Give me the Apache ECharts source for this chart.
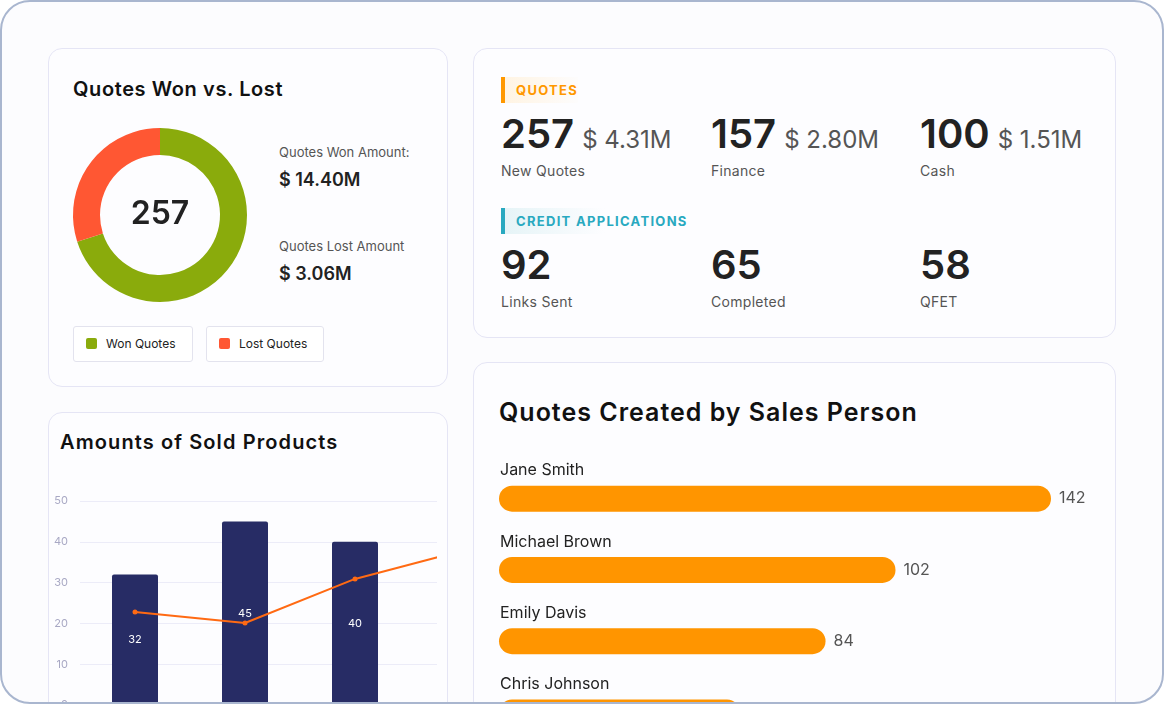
<!DOCTYPE html>
<html lang="en">
<head>
<meta charset="UTF-8">
<title>Quotes Dashboard</title>
<script src="https://cdn.jsdelivr.net/npm/echarts@6/dist/echarts.min.js"></script>
<style>
body{margin:0;width:1164px;height:704px;overflow:hidden;font-family:Inter,"Noto Sans",sans-serif;background:#fff;}
.frame{position:absolute;left:0;top:0;width:1160px;height:700px;border:2px solid #a9b6cf;border-radius:30px;background:#fcfcfe;overflow:hidden;}
.card{position:absolute;background:#fdfdff;border:1px solid #e5e5f5;border-radius:14px;overflow:hidden;}
.title{position:absolute;font-weight:600;color:#111;}
.t{position:absolute;white-space:nowrap;}
.lg{position:absolute;top:277px;height:34px;border:1px solid #e3e3ee;border-radius:3px;font-size:12px;color:#222;line-height:34px;background:#fff;}
.lg i{display:inline-block;width:11px;height:11px;border-radius:2px;margin:0 9px 0 12px;vertical-align:-1px;}
.sec{position:absolute;left:27px;font-size:13px;font-weight:700;letter-spacing:1.3px;padding-left:11px;height:26px;line-height:26px;}
.big{font-size:40px;font-weight:600;color:#222;}
.amt{font-size:24px;color:#555;margin-left:8px;}
.lab{font-size:14px;color:#555;letter-spacing:.3px;}
</style>
</head>
<body>
<div class="frame">
  <div class="card" style="left:46px;top:46px;width:398px;height:337px;">
    <div class="title" style="left:24px;top:28px;font-size:20px;letter-spacing:.6px;">Quotes Won vs. Lost</div>
    <div id="donut" style="position:absolute;left:0;top:60px;width:222px;height:210px;"></div>
    <div class="t" style="left:230px;top:95px;font-size:13px;color:#555;">Quotes Won Amount:</div>
    <div class="t" style="left:230px;top:120px;font-size:18px;font-weight:600;color:#222;">$ 14.40M</div>
    <div class="t" style="left:230px;top:189px;font-size:13px;color:#555;">Quotes Lost Amount</div>
    <div class="t" style="left:230px;top:214px;font-size:18px;font-weight:600;color:#222;">$ 3.06M</div>
    <div class="lg" style="left:24px;width:118px;"><i style="background:#8aab0c"></i>Won Quotes</div>
    <div class="lg" style="left:157px;width:116px;"><i style="background:#ff5733"></i>Lost Quotes</div>
  </div>
  <div class="card" style="left:46px;top:410px;width:398px;height:320px;">
    <div class="title" style="left:11px;top:17px;font-size:20px;letter-spacing:1.1px;">Amounts of Sold Products</div>
    <div style="position:absolute;left:0;top:0;width:388px;height:320px;overflow:hidden;">
      <div id="combo" style="position:absolute;left:0;top:58px;width:520px;height:260px;"></div>
    </div>
  </div>
  <div class="card" style="left:471px;top:46px;width:641px;height:288px;">
    <div class="sec" style="top:28px;color:#ff9800;border-left:4px solid #ff9800;background:linear-gradient(90deg,#fff4e3,rgba(255,255,255,0) 80px);">QUOTES</div>
    <div class="t" style="left:27px;top:60px;"><span class="big">257</span><span class="amt">$ 4.31M</span></div>
    <div class="t lab" style="left:27px;top:113px;">New Quotes</div>
    <div class="t" style="left:237px;top:60px;"><span class="big">157</span><span class="amt">$ 2.80M</span></div>
    <div class="t lab" style="left:237px;top:113px;">Finance</div>
    <div class="t" style="left:446px;top:60px;"><span class="big">100</span><span class="amt">$ 1.51M</span></div>
    <div class="t lab" style="left:446px;top:113px;">Cash</div>
    <div class="sec" style="top:159px;color:#29a9c0;border-left:4px solid #29a9c0;background:linear-gradient(90deg,#e6f4f7,rgba(255,255,255,0) 100px);">CREDIT APPLICATIONS</div>
    <div class="t" style="left:27px;top:191px;"><span class="big">92</span></div>
    <div class="t lab" style="left:27px;top:244px;">Links Sent</div>
    <div class="t" style="left:237px;top:191px;"><span class="big">65</span></div>
    <div class="t lab" style="left:237px;top:244px;">Completed</div>
    <div class="t" style="left:446px;top:191px;"><span class="big">58</span></div>
    <div class="t lab" style="left:446px;top:244px;">QFET</div>
  </div>
  <div class="card" style="left:471px;top:360px;width:641px;height:400px;">
    <div class="title" style="left:25px;top:34px;font-size:25px;letter-spacing:1px;">Quotes Created by Sales Person</div>
    <div id="hbar" style="position:absolute;left:0;top:85px;width:641px;height:300px;"></div>
  </div>
</div>
<script>
// donut
var donutNames = ['Won Quotes', 'Lost Quotes'];
var donutValues = [180, 77];
var donutColors = ['#8aab0c', '#ff5733'];
var totalQuotes = 257;

// sold products
var productCats = ['A', 'B', 'C', 'D'];
var soldBars = [32, 45, 40, 36];
var soldLine = [22.8, 20.1, 30.9, 38];
var soldTicks = [0, 10, 20, 30, 40, 50];

// sales persons
var persons = ['Jane Smith', 'Michael Brown', 'Emily Davis', 'Chris Johnson'];
var personQuotes = [142, 102, 84, 62];

var donut = echarts.init(document.getElementById('donut'));
donut.setOption({
  graphic: [{type: 'text', left: 'center', top: 'middle',
    style: {text: String(totalQuotes), font: '600 32px Inter', fill: '#222'}}],
  series: [{
    type: 'pie', radius: [60, 87], center: [111, 106], startAngle: 90,
    label: {show: false}, silent: true,
    data: donutNames.map(function (n, i) {
      return {name: n, value: donutValues[i], itemStyle: {color: donutColors[i]}};
    })
  }]
});

var combo = echarts.init(document.getElementById('combo'));
combo.setOption({
  grid: {left: 31, right: 49, top: 30, bottom: 26},
  xAxis: {type: 'category', data: productCats, axisLine: {show: false}, axisTick: {show: false}, axisLabel: {show: false}},
  yAxis: {type: 'value', min: soldTicks[0], max: soldTicks[soldTicks.length - 1], interval: 10,
    axisLabel: {color: '#a8a8c4', fontSize: 11, fontFamily: 'Inter', margin: 12},
    splitLine: {lineStyle: {color: '#ececf8'}}},
  series: [{
    type: 'bar', data: soldBars, barWidth: 46,
    itemStyle: {color: '#272c65', borderRadius: [2, 2, 0, 0]},
    label: {show: true, position: 'inside', color: '#fff', fontSize: 11, fontFamily: 'Inter'}
  }, {
    type: 'line', data: soldLine, symbol: 'circle', symbolSize: 5,
    lineStyle: {color: '#ff6a13', width: 2}, itemStyle: {color: '#ff6a13'}
  }]
});

var hbar = echarts.init(document.getElementById('hbar'));
hbar.setOption({
  grid: {left: 25, right: 64, top: 15, bottom: 0},
  xAxis: {type: 'value', min: 0, max: 142, show: false},
  yAxis: {type: 'category', data: persons, inverse: true,
    axisLine: {show: false}, axisTick: {show: false},
    axisLabel: {inside: true, margin: 1, verticalAlign: 'bottom', padding: [0, 0, 20, 0],
      color: '#222', fontSize: 16, fontFamily: 'Inter'}, z: 5},
  series: [{
    type: 'bar', data: personQuotes, barWidth: 26,
    itemStyle: {color: '#ff9500', borderRadius: 13},
    label: {show: true, position: 'right', color: '#555', fontSize: 16, distance: 8, fontFamily: 'Inter'}
  }]
});
</script>
</body>
</html>
